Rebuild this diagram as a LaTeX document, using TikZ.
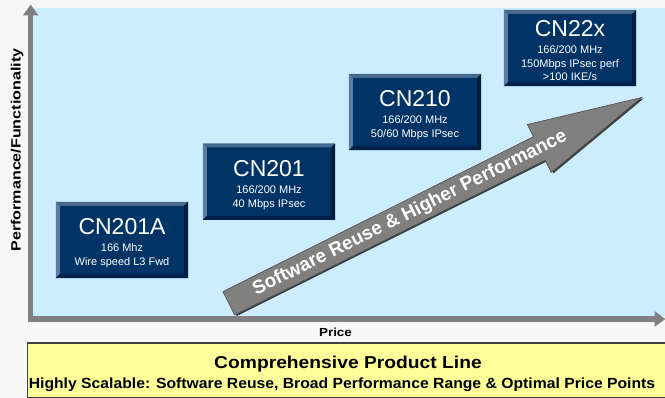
\documentclass[tikz,border=0pt]{standalone}
\usepackage{fontspec}
\setmainfont{Liberation Sans}
\usepackage{graphicx}
\usetikzlibrary{arrows.meta}
\definecolor{bgc}{HTML}{F7F7F7}
\definecolor{plotc}{HTML}{CCECFF}
\definecolor{navy}{HTML}{003366}
\definecolor{bevtop}{HTML}{46698F}
\definecolor{bevleft}{HTML}{5B7DA3}
\definecolor{bevbot}{HTML}{00224A}
\definecolor{bevright}{HTML}{001C3D}
\definecolor{axisc}{HTML}{808080}
\definecolor{yel}{HTML}{FFFF99}
\newcommand{\bevel}[1]{%
  \fill[bevtop] (#1.north west) -- (#1.north east) -- ([shift={(-4,4)}]#1.north east) -- ([shift={(4,4)}]#1.north west) -- cycle;
  \fill[bevleft] (#1.north west) -- ([shift={(4,4)}]#1.north west) -- ([shift={(4,-4)}]#1.south west) -- (#1.south west) -- cycle;
  \fill[bevbot] (#1.south west) -- ([shift={(4,-4)}]#1.south west) -- ([shift={(-4,-4)}]#1.south east) -- (#1.south east) -- cycle;
  \fill[bevright] (#1.south east) -- ([shift={(-4,-4)}]#1.south east) -- ([shift={(-4,4)}]#1.north east) -- (#1.north east) -- cycle;}
\begin{document}
\begin{tikzpicture}[x=1pt,y=-1pt,
  prodbox/.style={fill=navy, minimum width=132pt, minimum height=76pt, inner sep=0, draw=none},
  title/.style={anchor=base, text=white, inner sep=0, font=\fontsize{23}{23}\selectfont},
  sub/.style={anchor=base, text=white, inner sep=0, font=\fontsize{11}{11}\selectfont},
  axis/.style={draw=axisc, line width=5.5pt, -{Triangle[length=11pt,width=15pt]}},
  lbl/.style={inner sep=0, font=\bfseries},
]
\useasboundingbox (0,0) rectangle (665,398);
\fill[bgc] (0,0) rectangle (665,398);
\fill[plotc] (33,8) rectangle (665,316.5);

% axes
\coordinate (xstart) at (28,319);
\coordinate (xend) at (665.5,319);
\coordinate (ystart) at (30.7,322);
\coordinate (yend) at (30.7,4.5);
\draw[axis] (ystart) -- (yend);
\draw[axis] (xstart) -- (xend);

% axis labels
\node[lbl, anchor=base, rotate=90] (ylab) at (20.7,150) {\fontsize{13.5}{13.5}\selectfont\scalebox{1.19}[1]{Performance/Functionality}};
\node[lbl, anchor=base] (xlab) at (335.5,336.7) {\fontsize{11.7}{11.7}\selectfont\scalebox{1.15}[1]{Price}};

% product boxes
\node[prodbox] (b1) at (122,240) {};
\node[prodbox] (b2) at (269,181.7) {};
\node[prodbox] (b3) at (415,112) {};
\node[prodbox] (b4) at (570,48) {};
\bevel{b1}\bevel{b2}\bevel{b3}\bevel{b4}

\node[title] (t1) at (122,235) {CN201A};
\node[sub] (s1a) at (122,251.7) {166 Mhz};
\node[sub] (s1b) at (122,266) {Wire speed L3 Fwd};

\node[title] (t2) at (269,176.7) {CN201};
\node[sub] (s2a) at (269,193.5) {166/200 MHz};
\node[sub] (s2b) at (269,207.5) {40 Mbps IPsec};

\node[title] (t3) at (415,106.7) {CN210};
\node[sub] (s3a) at (415,124) {166/200 MHz};
\node[sub] (s3b) at (415,137.5) {50/60 Mbps IPsec};

\node[title] (t4) at (570,36.5) {CN22x};
\node[sub] (s4a) at (570,54) {166/200 MHz};
\node[sub] (s4b) at (570,67.5) {150Mbps IPsec perf};
\node[sub] (s4c) at (570,81) {>100 IKE/s};

% big arrow
\begin{scope}[shift={(228.8,303.3)}, rotate=26.5]
  \fill[black!75] ([shift={(1.5,1.8)}]0,-13.15) -- ++(347,0) -- ++(0,-13.65) -- ++(114.4,26.8) -- ++(-114.4,26.8) -- ++(0,-13.65) -- ++(-347,0) -- cycle;
  \filldraw[fill=axisc, draw=black!70, line width=0.6pt] (0,-13.15) -- (347,-13.15) -- (347,-26.8) -- (461.4,0) -- (347,26.8) -- (347,13.15) -- (0,13.15) -- cycle;
\end{scope}
\node[lbl, text=white, rotate=26.5] (swtext) at (410,213.5) {\fontsize{19}{19}\selectfont Software Reuse \& Higher Performance};

% summary box
\draw[fill=yel, draw=black!75, line width=1.2pt] (27.5,343) rectangle (670,397.6);
\node[lbl, anchor=base] (sum1) at (348,368.3) {\fontsize{17.2}{17.2}\selectfont\scalebox{1.12}[1]{Comprehensive Product Line}};
\node[lbl, anchor=base] (sum2) at (342,388.3) {\fontsize{14.7}{14.7}\selectfont\scalebox{1.07}[1]{Highly Scalable: Software Reuse, Broad Performance Range \& Optimal Price Points}};
\end{tikzpicture}
\end{document}
